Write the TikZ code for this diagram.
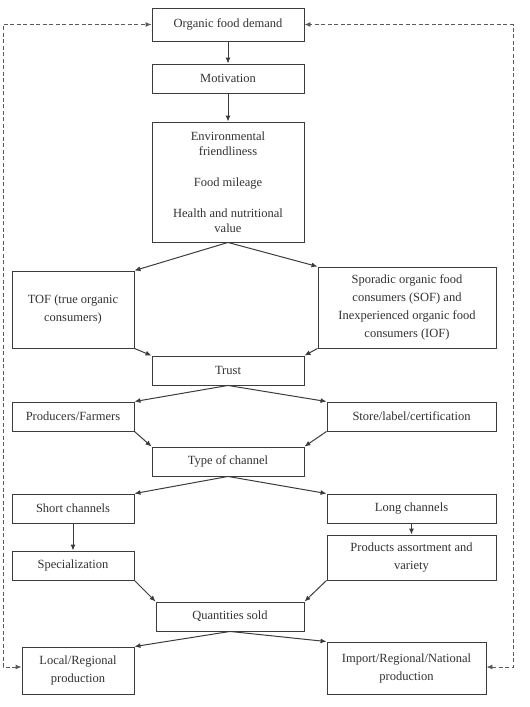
\documentclass[tikz,border=0pt]{standalone}
\usepackage{fontspec}
\setmainfont{Liberation Serif}
\usetikzlibrary{arrows.meta, positioning}
\definecolor{linegray}{RGB}{60,60,60}
\definecolor{textgray}{RGB}{50,50,50}
\definecolor{dashgray}{RGB}{90,90,90}
\tikzset{
  box/.style={rectangle, draw=linegray, line width=0.9pt, inner sep=2pt,
    align=center, text=textgray, font=\fontsize{12.5}{18}\selectfont},
  arrow/.style={-{Latex[length=6pt,width=5pt]}, line width=1pt, color=linegray},
  loopline/.style={{Latex[length=6pt,width=5pt]}-{Latex[length=6pt,width=5pt]},
    dash pattern=on 4pt off 2.5pt, line width=0.9pt, color=dashgray},
}
\begin{document}
\begin{tikzpicture}[x=1pt, y=-1pt]
  \useasboundingbox (0,0) rectangle (530,707);

  % Top of the chain
  \node[box, minimum width=152pt, minimum height=33pt] (dem) at (228, 24.5)
    {Organic food demand};
  \node[box, minimum width=152pt, minimum height=29pt] (mot) at (228, 78.5)
    {Motivation};
  \node[box, minimum width=152pt, minimum height=120pt,
        font=\fontsize{12.5}{15}\selectfont] (env) at (228, 182)
    {Environmental\\friendliness\\[16pt]Food mileage\\[16pt]Health and nutritional\\value};

  % Consumer types
  \node[box, minimum width=122pt, minimum height=77pt] (tof) at (73, 309.5)
    {TOF (true organic\\consumers)};
  \node[box, minimum width=178pt, minimum height=81pt] (sof) at (407, 307.5)
    {Sporadic organic food\\consumers (SOF) and\\Inexperienced organic food\\consumers (IOF)};
  \node[box, minimum width=152pt, minimum height=29pt] (trust) at (228, 370.5)
    {Trust};

  % Trust sources
  \node[box, minimum width=122pt, minimum height=29pt] (prod) at (73, 416.5)
    {Producers/Farmers};
  \node[box, minimum width=169pt, minimum height=29pt] (store) at (411.5, 416.5)
    {Store/label/certification};
  \node[box, minimum width=152pt, minimum height=29pt] (chan) at (228, 461.5)
    {Type of channel};

  % Channels
  \node[box, minimum width=122pt, minimum height=29pt] (short) at (73, 508.5)
    {Short channels};
  \node[box, minimum width=169pt, minimum height=29pt] (long) at (411.5, 508.5)
    {Long channels};
  \node[box, minimum width=122pt, minimum height=29pt] (spec) at (73, 565.5)
    {Specialization};
  \node[box, minimum width=169pt, minimum height=45pt] (assort) at (411.5, 557.5)
    {Products assortment and\\variety};
  \node[box, minimum width=148pt, minimum height=29pt] (qty) at (230, 616.5)
    {Quantities sold};

  % Production
  \node[box, minimum width=112pt, minimum height=47pt] (local) at (78, 670.5)
    {Local/Regional\\production};
  \node[box, minimum width=159pt, minimum height=52pt] (imp) at (406.5, 668)
    {Import/Regional/National\\production};

  % Arrows
  \draw[arrow] (dem) -- (mot);
  \draw[arrow] (mot) -- (env);
  \draw[arrow] (env.south) -- (tof.north east);
  \draw[arrow] (env.south) -- (sof.north west);
  \draw[arrow] (tof.south east) -- (trust.north west);
  \draw[arrow] (sof.south west) -- (trust.north east);
  \draw[arrow] (trust.south) -- (prod.north east);
  \draw[arrow] (trust.south) -- (store.north west);
  \draw[arrow] (prod.south east) -- (chan.north west);
  \draw[arrow] (store.south west) -- (chan.north east);
  \draw[arrow] (chan.south) -- (short.north east);
  \draw[arrow] (chan.south) -- (long.north west);
  \draw[arrow] (short) -- (spec);
  \draw[arrow] (long) -- (assort);
  \draw[arrow] (spec.south east) -- (qty.north west);
  \draw[arrow] (assort.south west) -- (qty.north east);
  \draw[arrow] (qty.south) -- (local.north east);
  \draw[arrow] (qty.south) -- (imp.north west);

  % Feedback loops
  \coordinate (lbend) at (3, 667);
  \coordinate (rbend) at (513, 667);
  \draw[loopline] (local.west |- lbend) -- (lbend) |- (dem.west);
  \draw[loopline] (imp.east |- rbend) -- (rbend) |- (dem.east);
\end{tikzpicture}
\end{document}
